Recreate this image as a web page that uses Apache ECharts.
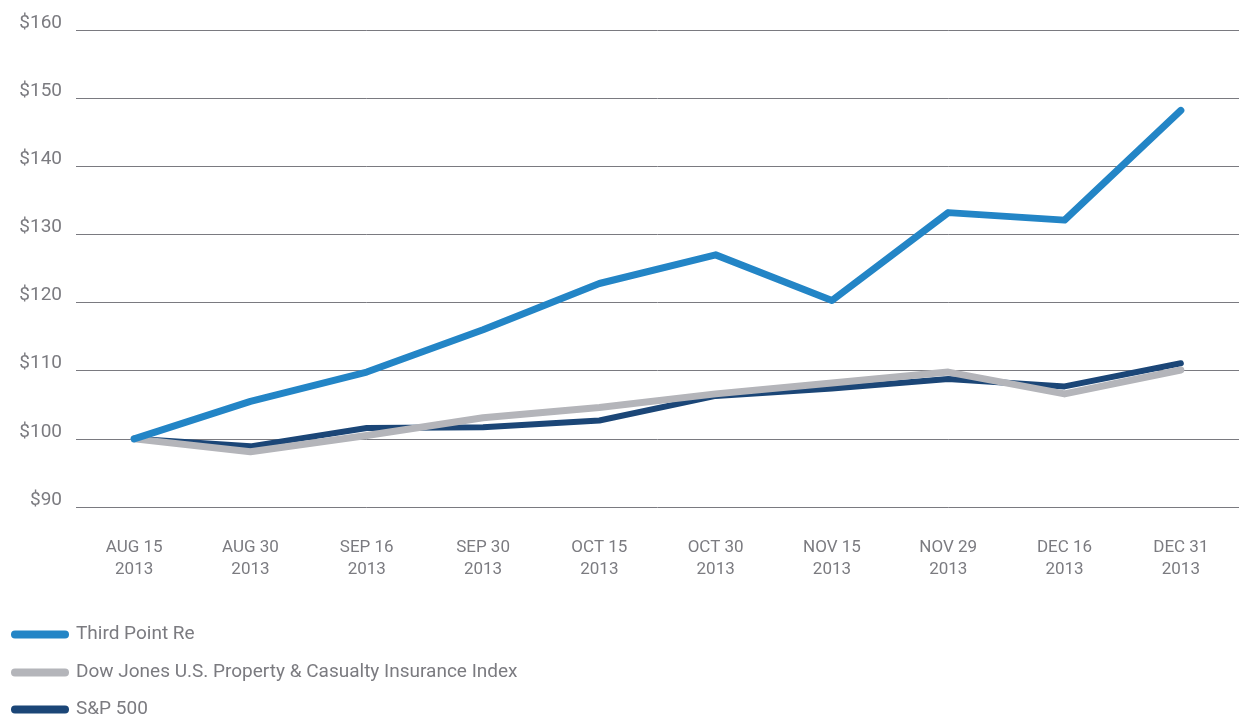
<!DOCTYPE html>
<html>
<head>
<meta charset="utf-8">
<script src="https://cdn.jsdelivr.net/npm/echarts@6/dist/echarts.min.js"></script>
<style>
  html, body { margin: 0; padding: 0; background: #fff; }
  #chart { width: 1239px; height: 717px; }
</style>
</head>
<body>
<div id="chart"></div>
<script>
// 数据
var dates = ["AUG 15\n2013", "AUG 30\n2013", "SEP 16\n2013", "SEP 30\n2013", "OCT 15\n2013",
  "OCT 30\n2013", "NOV 15\n2013", "NOV 29\n2013", "DEC 16\n2013", "DEC 31\n2013"];
var thirdPoint = [100, 105.5, 109.8, 116.0, 122.8, 127.0, 120.3, 133.2, 132.1, 148.2];
var dowJones = [100, 98.1, 100.5, 103.1, 104.6, 106.6, 108.2, 109.8, 106.6, 110.1];
var sp500 = [100, 98.9, 101.6, 101.7, 102.7, 106.3, 107.4, 108.8, 107.7, 111.1];
var yTicks = [90, 100, 110, 120, 130, 140, 150, 160];
var legendNames = ["Third Point Re", "Dow Jones U.S. Property & Casualty Insurance Index", "S&P 500"];

var font = "Roboto, sans-serif";
var textColor = "#7b7b80";
var pill = "path://M4,0 L54,0 A4,4 0 0 1 54,8 L4,8 A4,4 0 0 1 4,0 Z";

var chart = echarts.init(document.getElementById("chart"));

// 线系列
var line = function(name, data, color, width, z) {
  return {
    name: name,
    type: "line",
    data: data,
    symbol: "none",
    z: z,
    lineStyle: { color: color, width: width, cap: "round", join: "round" },
    itemStyle: { color: color }
  };
};

// 图例，一项一个，竖着排
var legendTops = [620, 658, 695];
var legends = legendNames.map(function(name, i) {
  return {
    left: 6,
    top: legendTops[i],
    itemWidth: 58,
    itemHeight: 8,
    icon: pill,
    data: [name],
    textStyle: { color: textColor, fontSize: 19, fontFamily: font, padding: [0, 0, 0, 2] }
  };
});

chart.setOption({
  animation: false,
  grid: { left: 76, right: 0, top: 30, bottom: 210 },
  legend: legends,
  xAxis: {
    type: "category",
    data: dates,
    boundaryGap: true,
    axisLine: { show: false },
    axisTick: { show: false },
    axisLabel: { color: textColor, fontSize: 17, lineHeight: 22, fontFamily: font, margin: 30, interval: 0 }
  },
  yAxis: {
    type: "value",
    min: yTicks[0],
    max: yTicks[yTicks.length - 1],
    interval: 10,
    axisLine: { show: false },
    axisTick: { show: false },
    axisLabel: {
      color: textColor, fontSize: 19, fontFamily: font, margin: 14,
      verticalAlign: "bottom",
      lineHeight: 14,
      formatter: function(v) { return "$" + v; }
    },
    splitLine: { lineStyle: { color: "#7a7a80", width: 1 } }
  },
  series: [
    line("S&P 500", sp500, "#1b4677", 6, 2),
    line("Dow Jones U.S. Property & Casualty Insurance Index", dowJones, "#b4b5ba", 7, 3),
    line("Third Point Re", thirdPoint, "#2385c6", 7, 4)
  ]
});
</script>
</body>
</html>
